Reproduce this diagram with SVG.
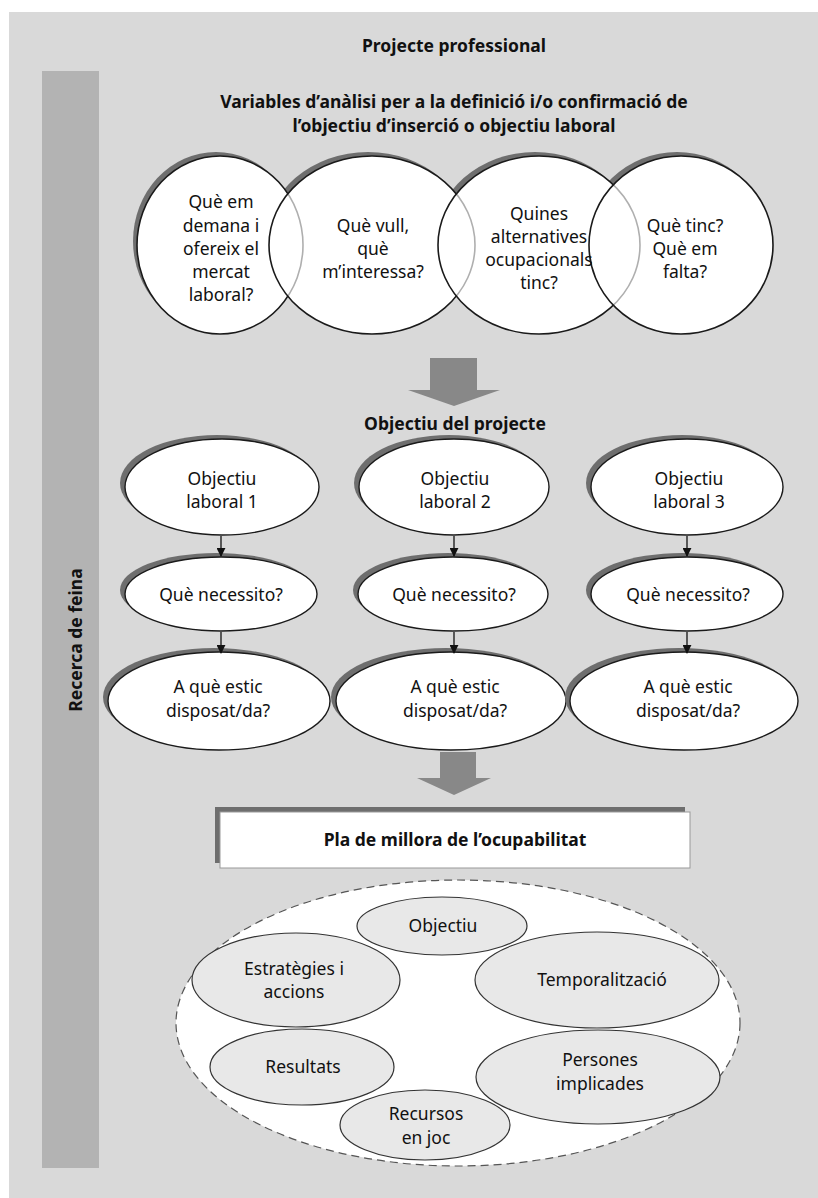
<svg xmlns="http://www.w3.org/2000/svg" width="818" height="1198" viewBox="0 0 818 1198">
  <style>
    text { font-family: "Noto Sans", "Open Sans", sans-serif; font-size: 17.5px; fill: #111; text-anchor: middle; }
    .bold { font-weight: bold; }
    .shadow { fill: #6e6e6e; }
    .node { fill: #fff; stroke: #1a1a1a; stroke-width: 1.4; }
    .veil { fill: #fff; fill-opacity: 0.65; stroke: none; }
    .ring { fill: none; stroke: #1a1a1a; stroke-width: 1.6; }
    .item { fill: #e8e8e8; stroke: #333; stroke-width: 1.2; }
    .block { fill: #888; }
    .link { stroke: #111; stroke-width: 1.3; fill: none; marker-end: url(#tip); }
  </style>
  <defs>
    <marker id="tip" viewBox="0 0 10 10" refX="9" refY="5" markerWidth="9" markerHeight="9" markerUnits="userSpaceOnUse" orient="auto">
      <path d="M0,0 L10,5 L0,10 Z" fill="#111"/>
    </marker>
  </defs>

  <!-- page background -->
  <rect x="0" y="0" width="818" height="1198" fill="#fff"/>
  <rect x="9" y="12" width="809" height="1186" fill="#d9d9d9"/>

  <!-- side band -->
  <g id="band">
    <rect x="42" y="71" width="57" height="1097" fill="#b3b3b3"/>
    <text class="bold" transform="translate(82,640) rotate(-90)" font-size="19.5">Recerca de feina</text>
  </g>

  <g id="title">
    <text class="bold" x="454" y="52" font-size="19">Projecte professional</text>
  </g>
  <g id="variables-heading">
    <text class="bold" x="454" y="108" font-size="17.4">Variables d’anàlisi per a la definició i/o confirmació de</text>
    <text class="bold" x="454" y="132" font-size="17.4">l’objectiu d’inserció o objectiu laboral</text>
  </g>

  <!-- four overlapping analysis circles -->
  <g id="analysis-circles">
    <ellipse class="shadow" cx="216" cy="241" rx="83" ry="89"/>
    <ellipse class="shadow" cx="368" cy="241" rx="103" ry="89"/>
    <ellipse class="shadow" cx="535" cy="241" rx="101" ry="89"/>
    <ellipse class="shadow" cx="677" cy="241" rx="92" ry="89"/>
    <ellipse fill="#fff" cx="220" cy="245" rx="83" ry="89"/>
    <ellipse fill="#fff" cx="372" cy="245" rx="103" ry="89"/>
    <ellipse fill="#fff" cx="539" cy="245" rx="101" ry="89"/>
    <ellipse fill="#fff" cx="681" cy="245" rx="92" ry="89"/>
    <ellipse class="ring" cx="220" cy="245" rx="83" ry="89"/>
    <ellipse class="veil" cx="372" cy="245" rx="103" ry="89"/>
    <ellipse class="ring" cx="372" cy="245" rx="103" ry="89"/>
    <ellipse class="veil" cx="539" cy="245" rx="101" ry="89"/>
    <ellipse class="ring" cx="539" cy="245" rx="101" ry="89"/>
    <ellipse class="veil" cx="681" cy="245" rx="92" ry="89"/>
    <ellipse class="ring" cx="681" cy="245" rx="92" ry="89"/>
  </g>
  <g id="circle-market">
    <text x="221" y="208">Què em</text>
    <text x="221" y="232">demana i</text>
    <text x="221" y="255">ofereix el</text>
    <text x="221" y="278">mercat</text>
    <text x="221" y="301">laboral?</text>
  </g>
  <g id="circle-interest">
    <text x="373" y="232">Què vull,</text>
    <text x="373" y="255">què</text>
    <text x="373" y="278">m’interessa?</text>
  </g>
  <g id="circle-alternatives">
    <text x="539" y="220">Quines</text>
    <text x="539" y="243">alternatives</text>
    <text x="539" y="266">ocupacionals</text>
    <text x="539" y="289">tinc?</text>
  </g>
  <g id="circle-resources">
    <text x="685" y="232">Què tinc?</text>
    <text x="685" y="255">Què em</text>
    <text x="685" y="278">falta?</text>
  </g>

  <g id="project-heading">
    <text class="bold" x="455" y="430" font-size="18">Objectiu del projecte</text>
  </g>

  <!-- column 1 -->
  <g id="goal-1">
    <ellipse class="shadow" cx="217" cy="483" rx="97" ry="48"/>
    <ellipse class="node" cx="222" cy="487" rx="97" ry="48"/>
    <text x="222" y="485">Objectiu</text>
    <text x="222" y="508">laboral 1</text>
  </g>
  <g id="need-1">
    <ellipse class="shadow" cx="216" cy="590" rx="96" ry="37"/>
    <ellipse class="node" cx="221" cy="594" rx="96" ry="37"/>
    <text x="221" y="601">Què necessito?</text>
  </g>
  <g id="willing-1">
    <ellipse class="shadow" cx="214" cy="697" rx="111" ry="49"/>
    <ellipse class="node" cx="219" cy="701" rx="111" ry="49"/>
    <text x="218" y="693">A què estic</text>
    <text x="218" y="717">disposat/da?</text>
  </g>

  <!-- column 2 -->
  <g id="goal-2">
    <ellipse class="shadow" cx="449" cy="483" rx="95" ry="48"/>
    <ellipse class="node" cx="454" cy="487" rx="95" ry="48"/>
    <text x="455" y="485">Objectiu</text>
    <text x="455" y="508">laboral 2</text>
  </g>
  <g id="need-2">
    <ellipse class="shadow" cx="448" cy="590" rx="95" ry="37"/>
    <ellipse class="node" cx="453" cy="594" rx="95" ry="37"/>
    <text x="454" y="601">Què necessito?</text>
  </g>
  <g id="willing-2">
    <ellipse class="shadow" cx="446" cy="697" rx="115" ry="49"/>
    <ellipse class="node" cx="451" cy="701" rx="115" ry="49"/>
    <text x="455" y="693">A què estic</text>
    <text x="455" y="717">disposat/da?</text>
  </g>

  <!-- column 3 -->
  <g id="goal-3">
    <ellipse class="shadow" cx="682" cy="483" rx="96" ry="48"/>
    <ellipse class="node" cx="687" cy="487" rx="96" ry="48"/>
    <text x="689" y="485">Objectiu</text>
    <text x="689" y="508">laboral 3</text>
  </g>
  <g id="need-3">
    <ellipse class="shadow" cx="682" cy="590" rx="96" ry="37"/>
    <ellipse class="node" cx="687" cy="594" rx="96" ry="37"/>
    <text x="688" y="601">Què necessito?</text>
  </g>
  <g id="willing-3">
    <ellipse class="shadow" cx="679" cy="697" rx="114" ry="49"/>
    <ellipse class="node" cx="684" cy="701" rx="114" ry="49"/>
    <text x="688" y="693">A què estic</text>
    <text x="688" y="717">disposat/da?</text>
  </g>

  <!-- plan box -->
  <g id="plan">
    <rect x="215" y="807" width="470" height="56" fill="#6e6e6e"/>
    <rect x="220" y="812" width="470" height="56" fill="#fff" stroke="#999" stroke-width="1"/>
    <text class="bold" x="455" y="846" font-size="18">Pla de millora de l’ocupabilitat</text>
  </g>

  <!-- plan components -->
  <g id="plan-components">
    <ellipse cx="458" cy="1023" rx="282" ry="143" fill="#fff" stroke="#555" stroke-width="1.2" stroke-dasharray="8,5"/>
  </g>
  <g id="item-objectiu">
    <ellipse class="item" cx="442" cy="926" rx="85" ry="29"/>
    <text x="443" y="932">Objectiu</text>
  </g>
  <g id="item-estrategies">
    <ellipse class="item" cx="296" cy="980" rx="104" ry="47"/>
    <text x="294" y="975">Estratègies i</text>
    <text x="294" y="998">accions</text>
  </g>
  <g id="item-temporalitzacio">
    <ellipse class="item" cx="597" cy="980" rx="122" ry="48"/>
    <text x="602" y="986">Temporalització</text>
  </g>
  <g id="item-resultats">
    <ellipse class="item" cx="302" cy="1067" rx="92" ry="38"/>
    <text x="303" y="1073">Resultats</text>
  </g>
  <g id="item-persones">
    <ellipse class="item" cx="598" cy="1077" rx="122" ry="47"/>
    <text x="600" y="1066">Persones</text>
    <text x="600" y="1090">implicades</text>
  </g>
  <g id="item-recursos">
    <ellipse class="item" cx="425" cy="1125" rx="85" ry="35"/>
    <text x="426" y="1120">Recursos</text>
    <text x="426" y="1144">en joc</text>
  </g>

  <!-- connectors -->
  <g id="connectors">
    <path class="block" d="M430,358 H477 V390 H500 L454,406 L408,390 H430 Z"/>
    <path class="block" d="M440,752 H476 V778 H491 L454,795 L417,778 H440 Z"/>
    <line class="link" x1="221" y1="536" x2="221" y2="556"/>
    <line class="link" x1="454" y1="536" x2="454" y2="556"/>
    <line class="link" x1="687" y1="536" x2="687" y2="556"/>
    <line class="link" x1="221" y1="632" x2="221" y2="653"/>
    <line class="link" x1="454" y1="632" x2="454" y2="653"/>
    <line class="link" x1="687" y1="632" x2="687" y2="653"/>
  </g>
</svg>
